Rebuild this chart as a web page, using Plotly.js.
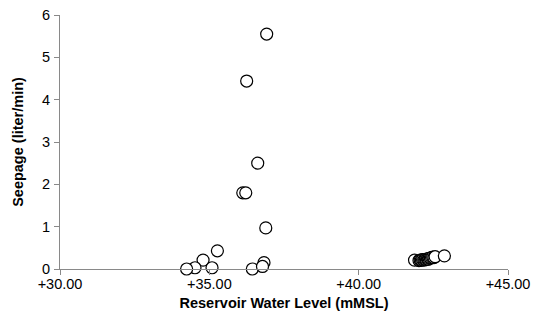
<!DOCTYPE html>
<html><head><meta charset="utf-8">
<script src="https://cdn.plot.ly/plotly-3.0.1.min.js"></script>
<style>body{margin:0;padding:0;background:#fff}#c{width:539px;height:323px}</style>
</head><body><div id="c"></div>
<script>
const waterLevel = [36.92, 36.25, 36.62, 36.12, 36.22, 36.89, 35.27, 34.79, 34.52, 34.24, 35.09, 36.44, 36.83, 36.78,
  41.87, 42.02, 42.06, 42.1, 42.14, 42.18, 42.21, 42.24, 42.27, 42.3, 42.33, 42.36, 42.4, 42.44, 42.48, 42.52, 42.56, 42.87];
const seepage = [5.55, 4.44, 2.50, 1.80, 1.80, 0.97, 0.43, 0.21, 0.03, 0.0, 0.03, 0.0, 0.15, 0.06,
  0.21, 0.20, 0.21, 0.21, 0.22, 0.21, 0.22, 0.23, 0.22, 0.24, 0.23, 0.25, 0.26, 0.27, 0.28, 0.27, 0.29, 0.31];
const xTicks = [30, 35, 40, 45];
const xTickText = ['+30.00', '+35.00', '+40.00', '+45.00'];
const yTicks = [0, 1, 2, 3, 4, 5, 6];

const font = {family: 'Liberation Sans, Arial, sans-serif', color: '#000', size: 14.5};
Plotly.newPlot('c', [{
  x: waterLevel, y: seepage, type: 'scatter', mode: 'markers',
  marker: {symbol: 'circle', size: 12, color: '#fff', line: {color: '#000', width: 1.2}},
  cliponaxis: false, showlegend: false
}], {
  width: 539, height: 323,
  margin: {l: 60, r: 31, t: 15, b: 54},
  paper_bgcolor: '#fff', plot_bgcolor: '#fff',
  font: font,
  xaxis: {range: [30, 45], tickmode: 'array', tickvals: xTicks, ticktext: xTickText,
    showgrid: false, zeroline: false, showline: true, linecolor: '#898989', linewidth: 1,
    ticks: 'outside', ticklen: 5, tickcolor: '#898989', ticklabelstandoff: -3,
    title: {text: '<b>Reservoir Water Level (mMSL)</b>', font: font, standoff: 6}},
  yaxis: {range: [0, 6], tickvals: yTicks, showgrid: false, zeroline: false,
    showline: true, linecolor: '#898989', linewidth: 1, ticks: 'outside', ticklen: 5, tickcolor: '#898989',
    ticklabelstandoff: 1,
    title: {text: '<b>Seepage (liter/min)</b>', font: font, standoff: 14}}
}, {staticPlot: true});
</script></body></html>
